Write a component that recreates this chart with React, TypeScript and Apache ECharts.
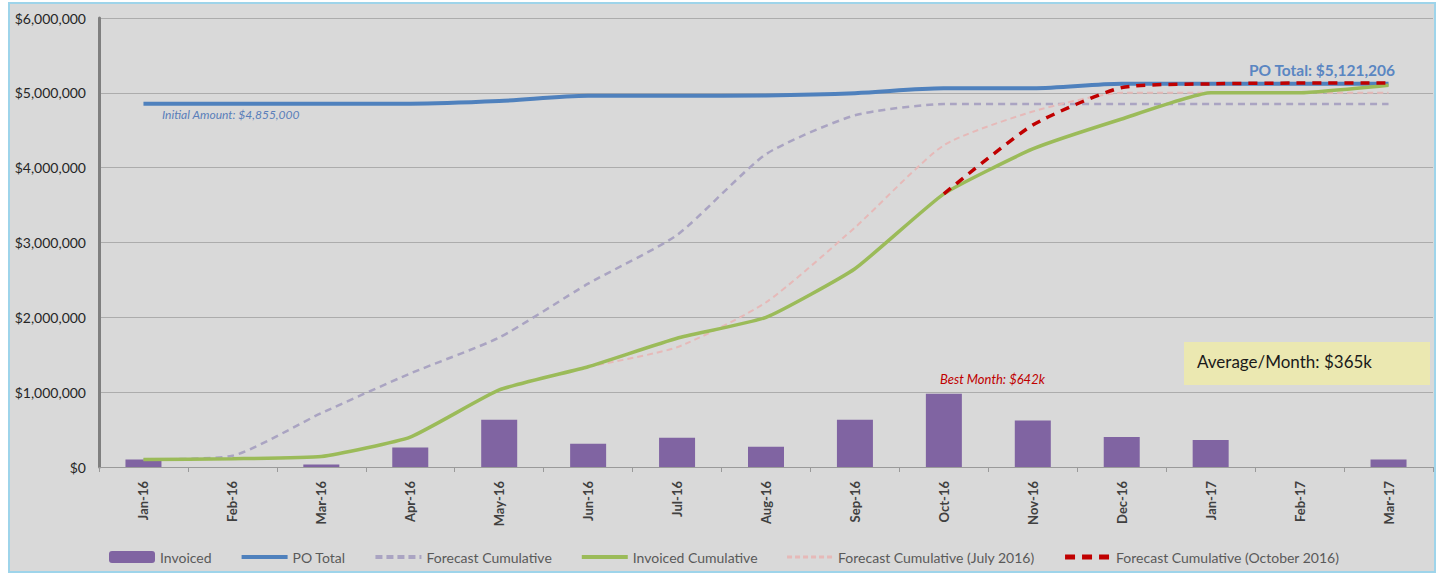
import React, { useEffect, useRef } from "react";
import * as echarts from "echarts";

const months = ["Jan-16","Feb-16","Mar-16","Apr-16","May-16","Jun-16","Jul-16","Aug-16","Sep-16","Oct-16","Nov-16","Dec-16","Jan-17","Feb-17","Mar-17"];
const invoiced = [100000, 0, 35000, 260000, 630000, 310000, 390000, 270000, 630000, 980000, 620000, 400000, 360000, 0, 100000];
const poTotal = [4855000, 4855000, 4855000, 4855000, 4890000, 4960000, 4960000, 4965000, 4995000, 5060000, 5060000, 5120000, 5121206, 5121206, 5121206];
const forecastCum = [100000, 150000, 720000, 1250000, 1730000, 2450000, 3100000, 4180000, 4700000, 4850000, 4850000, 4850000, 4850000, 4850000, 4850000];
const invoicedCum = [100000, 110000, 140000, 400000, 1030000, 1340000, 1720000, 2000000, 2650000, 3650000, 4250000, 4650000, 5000000, 5000000, 5100000];
const forecastJul = [null, null, null, null, null, 1340000, 1600000, 2200000, 3200000, 4300000, 4750000, 5000000, 5000000, 5000000, 5000000];
const forecastOct = [null, null, null, null, null, null, null, null, null, 3650000, 4570000, 5070000, 5120000, 5130000, 5130000];
const yTicks = [0, 1000000, 2000000, 3000000, 4000000, 5000000, 6000000];

const FONT = "Lato, 'Open Sans', sans-serif";

export default function App() {
  const ref = useRef<HTMLDivElement>(null);
  useEffect(() => {
    document.body.style.margin = "0";
    const chart = echarts.init(ref.current!, null, { renderer: "svg" });
    const fmt = (v: number) => "$" + v.toLocaleString("en-US");
    const lineLegend = (name: string, width: number, type: any) => ({ name, itemStyle: { opacity: 0 }, lineStyle: { width, type } });
    chart.setOption({
      animation: false,
      backgroundColor: "#ffffff",
      textStyle: { fontFamily: FONT },
      graphic: [
        { type: "rect", z: -10, shape: { x: 9, y: 3, width: 1426, height: 569 }, style: { fill: "#d9d9d9", stroke: "#9ed4ea", lineWidth: 2 } },
        { type: "text", left: 162, top: 108, style: { text: "Initial Amount: $4,855,000", fill: "#5a7fba", font: "italic 12px " + FONT } },
        { type: "text", left: 1249, top: 62, style: { text: "PO Total: $5,121,206", fill: "#5a86c2", font: "bold 15.5px " + FONT } },
        { type: "text", left: 940, top: 372, style: { text: "Best Month: $642k", fill: "#c00000", font: "italic 13px " + FONT } },
        { type: "rect", shape: { x: 1184, y: 342, width: 246, height: 43 }, style: { fill: "#ebe8b1" } },
        { type: "text", left: 1197, top: 353, style: { text: "Average/Month: $365k", fill: "#1a1a1a", font: "17px " + FONT } },
      ],
      grid: { left: 99, right: 6, top: 18, bottom: 110 },
      legend: {
        left: 104, top: 545, itemWidth: 46, itemHeight: 12, itemGap: 28,
        textStyle: { color: "#595959", fontSize: 14, fontFamily: FONT },
        data: [
          { name: "Invoiced" },
          lineLegend("PO Total", 4, "solid"),
          lineLegend("Forecast Cumulative", 4, [7, 4]),
          lineLegend("Invoiced Cumulative", 4, "solid"),
          lineLegend("Forecast Cumulative (July 2016)", 3, [5, 3]),
          lineLegend("Forecast Cumulative (October 2016)", 5, [10, 7]),
        ],
      },
      xAxis: {
        type: "category", data: months, boundaryGap: true,
        axisLine: { lineStyle: { color: "#9a9a9a", width: 1 } },
        axisTick: { show: true, alignWithLabel: false, length: 5, lineStyle: { color: "#9a9a9a" } },
        axisLabel: { rotate: 90, color: "#404040", fontSize: 13, fontWeight: "bold", margin: 14, fontFamily: FONT, interval: 0 },
      },
      yAxis: {
        type: "value", min: 0, max: 6000000, interval: 1000000,
        axisLine: { show: true, lineStyle: { color: "#7f7f7f", width: 3 } },
        axisTick: { show: false },
        splitLine: { lineStyle: { color: "#acacac", width: 1 } },
        axisLabel: { color: "#262626", fontSize: 14, margin: 13, fontFamily: FONT, formatter: (v: number) => fmt(v), customValues: yTicks },
      },
      series: [
        { name: "Invoiced", type: "bar", data: invoiced, barWidth: 36, itemStyle: { color: "#8064a2" }, z: 1 },
        { name: "PO Total", type: "line", data: poTotal, smooth: 0.3, showSymbol: false, symbol: "none", lineStyle: { color: "#4f81bd", width: 4 }, itemStyle: { color: "#4f81bd" }, z: 3 },
        { name: "Forecast Cumulative", type: "line", data: forecastCum, smooth: 0.2, showSymbol: false, symbol: "none", lineStyle: { color: "#aaa4c2", width: 2.5, type: [7, 5] }, itemStyle: { color: "#aaa4c2" }, z: 2 },
        { name: "Invoiced Cumulative", type: "line", data: invoicedCum, smooth: 0.15, showSymbol: false, symbol: "none", lineStyle: { color: "#9bbb59", width: 3.5 }, itemStyle: { color: "#9bbb59" }, z: 4 },
        { name: "Forecast Cumulative (July 2016)", type: "line", data: forecastJul, smooth: 0.2, showSymbol: false, symbol: "none", lineStyle: { color: "#e6b9b8", width: 2, type: [6, 4] }, itemStyle: { color: "#e6b9b8" }, z: 3 },
        { name: "Forecast Cumulative (October 2016)", type: "line", data: forecastOct, smooth: 0.2, showSymbol: false, symbol: "none", lineStyle: { color: "#c00000", width: 3.5, type: [9, 7] }, itemStyle: { color: "#c00000" }, z: 5 },
      ],
    });
    return () => chart.dispose();
  }, []);
  return <div ref={ref} style={{ width: 1439, height: 577 }} />;
}
